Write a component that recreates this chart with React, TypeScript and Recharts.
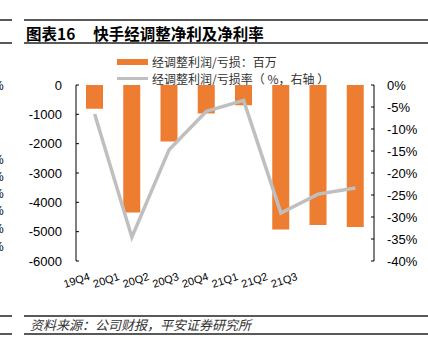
import { ComposedChart, Bar, Line, XAxis, YAxis } from "recharts";

const quarters = ["19Q4", "20Q1", "20Q2", "20Q3", "20Q4", "21Q1", "21Q2", "21Q3"];
const adjProfit = [-810, -4350, -1930, -970, -690, -4930, -4770, -4840];
const adjMargin = [-6.6, -34.6, -14.7, -6.0, -3.5, -29.1, -24.8, -23.4];
const leftTicks = [0, -1000, -2000, -3000, -4000, -5000, -6000];
const rightTicks = [0, -5, -10, -15, -20, -25, -30, -35, -40];

const ORANGE = "#ED7D31";
const GRAY = "#BFBFBF";
const RULE = "#595959";
const FONT = "Arial, 'Liberation Sans', 'Noto Sans CJK SC', sans-serif";
const CJK = "'Noto Sans CJK SC', sans-serif";

const chartData = quarters.map((q, i) => ({
  name: q,
  profit: adjProfit[i],
  margin: adjMargin[i]
}));

// Excel squeezed the category labels closer together than the bars
const QuarterTick = (props: any) => {
  const { x, y, payload } = props;
  const lx = x * 0.796 + 1.2;
  const ly = y + 19;
  return (
    <text
      x={lx}
      y={ly}
      transform={`rotate(-18 ${lx} ${ly})`}
      textAnchor="middle"
      dominantBaseline="central"
      fontSize={11}
      fontFamily={FONT}
      fill="#000"
    >
      {payload.value}
    </text>
  );
};

const rule = (top: number) => (
  <>
    <div style={{ position: "absolute", left: 0, top, width: 12, height: 2, background: RULE }} />
    <div style={{ position: "absolute", left: 24, top, width: 404, height: 2, background: RULE }} />
  </>
);

// right edges of the "%" labels of the neighbouring chart, clipped by the crop
const strayPercents = [86, 160, 177, 194, 211, 229, 247];

export default function App() {
  return (
    <div
      style={{
        position: "absolute",
        left: 0,
        top: 0,
        width: 428,
        height: 353,
        background: "#fff",
        overflow: "hidden",
        fontFamily: FONT
      }}
    >
      {rule(19)}
      {rule(42)}
      {rule(315)}
      {rule(333)}

      {/* Title */}
      <div
        style={{
          position: "absolute",
          left: 26,
          top: 22,
          fontSize: 15.5,
          fontWeight: "bold",
          color: "#000",
          whiteSpace: "nowrap",
          fontFamily: CJK
        }}
      >
        图表16<span style={{ marginLeft: 18 }}>快手经调整净利及净利率</span>
      </div>

      {/* Legend */}
      <div style={{ position: "absolute", left: 117, top: 59, width: 31, height: 6, background: ORANGE }} />
      <div style={{ position: "absolute", left: 117, top: 77, width: 31, height: 3, background: GRAY }} />
      <div
        style={{
          position: "absolute",
          left: 152,
          top: 53,
          fontSize: 12,
          lineHeight: "17px",
          color: "#333",
          whiteSpace: "pre",
          fontFamily: CJK
        }}
      >
        <div>经调整利润/亏损：百万</div>
        <div>{"经调整利润/亏损率（ %，右轴 ）"}</div>
      </div>

      {strayPercents.map((t) => (
        <div
          key={t}
          style={{ position: "absolute", left: -7, top: t - 7, fontSize: 12, lineHeight: "14px", color: "#000" }}
        >
          %
        </div>
      ))}

      {/* Source */}
      <div
        style={{
          position: "absolute",
          left: 30,
          top: 317,
          fontSize: 13,
          lineHeight: "16px",
          fontStyle: "italic",
          color: "#333",
          whiteSpace: "nowrap",
          fontFamily: CJK
        }}
      >
        资料来源：公司财报，平安证券研究所
      </div>

      <div style={{ position: "absolute", left: 0, top: 0 }}>
        <ComposedChart
          width={428}
          height={353}
          data={chartData}
          margin={{ top: 85, right: 0, bottom: 0, left: 0 }}
        >
          <XAxis
            dataKey="name"
            axisLine={false}
            tickLine={false}
            tickSize={0}
            tickMargin={0}
            height={92}
            interval={0}
            tick={<QuarterTick />}
          />
          <YAxis
            yAxisId="left"
            width={76}
            domain={[-6000, 0]}
            ticks={leftTicks}
            interval={0}
            axisLine={{ stroke: "#000", strokeWidth: 1 }}
            tickLine={{ stroke: "#000", strokeWidth: 1 }}
            tickSize={-3}
            tickMargin={17}
            tick={{ fontSize: 13, fill: "#000", fontFamily: FONT }}
          />
          <YAxis
            yAxisId="right"
            orientation="right"
            width={54}
            domain={[-40, 0]}
            ticks={rightTicks}
            interval={0}
            axisLine={{ stroke: "#000", strokeWidth: 1 }}
            tickLine={{ stroke: "#000", strokeWidth: 1 }}
            tickSize={-3}
            tickMargin={16}
            tickFormatter={(v) => `${v}%`}
            tick={{ fontSize: 13, fill: "#000", fontFamily: FONT }}
          />
          <Bar
            yAxisId="left"
            dataKey="profit"
            fill={ORANGE}
            barSize={17}
            isAnimationActive={false}
          />
          <Line
            yAxisId="right"
            dataKey="margin"
            stroke={GRAY}
            strokeWidth={3.5}
            dot={false}
            isAnimationActive={false}
          />
        </ComposedChart>
      </div>
    </div>
  );
}
